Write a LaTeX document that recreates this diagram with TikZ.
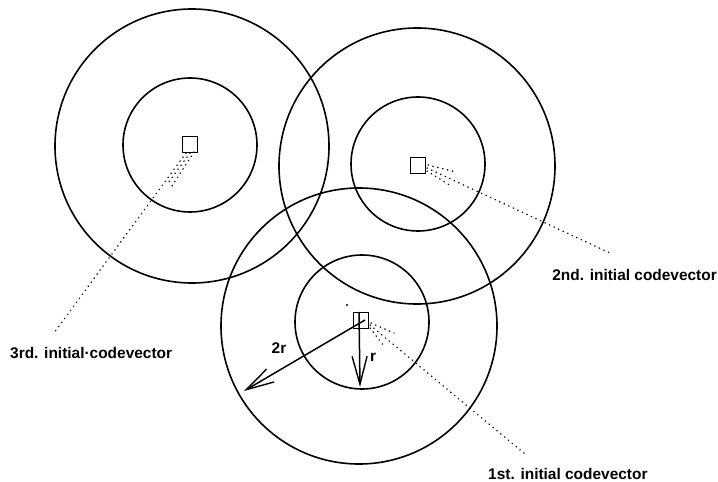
\documentclass[tikz,border=0pt]{standalone}
\usepackage{fontspec}
\setmainfont{Liberation Sans}
\usetikzlibrary{arrows.meta}
\begin{document}
\begin{tikzpicture}[x=1bp,y=-1bp,
  ring/.style={line width=1.6bp},
  cv/.style={draw,line width=1bp,minimum width=15bp,minimum height=16bp,inner sep=0pt},
  leader/.style={line width=1.4bp,dash pattern=on 0.4bp off 4.6bp,line cap=round},
  lab/.style={font=\fontsize{15.5}{17}\selectfont\bfseries,inner sep=0pt},
  vec/.style={line width=1.5bp,-{Straight Barb[length=28bp,width=15bp,line width=1.4bp]}}]
\useasboundingbox (0,0) rectangle (718,482);
% circles
\draw[ring] (192,146) circle[radius=137bp];
\draw[ring] (190,145) circle[radius=67bp];
\draw[ring] (417,166) circle[radius=138bp];
\draw[ring] (418,164) circle[radius=67bp];
\draw[ring] (359,326) circle[radius=138bp];
\draw[ring] (362,322) circle[radius=67bp];
% codevectors
\node[cv] (sq3) at (189.5,145) {};
\node[cv] (sq2) at (417.5,165.5) {};
\node[cv] (sq1) at (361,320) {};
% labels
\node[lab,anchor=west] (lab3) at (10,353) {3rd. initial·codevector};
\node[lab,anchor=east] (lab2) at (717,275) {2nd. initial codevector};
\node[lab,anchor=west] (lab1) at (488,474) {1st. initial codevector};
% leader end points
\coordinate (e3) at (54,333);
\coordinate (e2) at (610,253);
\coordinate (e1) at (525,454);
% leaders
\draw[leader] (186,153) -- (e3);
\draw[leader] (190,153) -- (168,183);
\draw[leader] (194,152) -- (172,186);
\draw[leader] (427,168) -- (e2);
\draw[leader] (428,165) -- (456,172);
\draw[leader] (427,171) -- (451,186);
\draw[leader] (370,325) -- (e1);
\draw[leader] (371,323) -- (394,333);
\draw[leader] (370,328) -- (384,346);
% radius vectors
\coordinate (t2r) at (244,391);
\coordinate (tr) at (360,387);
\draw[vec] (365,320) -- (t2r);
\draw[vec] (359,312) -- (tr);
\node[lab] (l2r) at (279,348) {2r};
\node[lab] (lr) at (373,357) {r};
% scan speck
\fill (347,305) circle[radius=1.1bp];
\end{tikzpicture}
\end{document}
